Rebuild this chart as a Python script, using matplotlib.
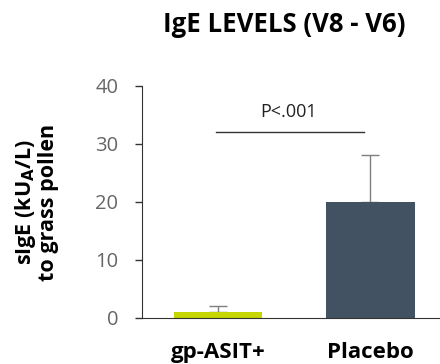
import matplotlib.pyplot as plt
import numpy as np

plt.rcParams['font.family'] = ['Open Sans', 'DejaVu Sans']

# data
groups = ['gp-ASIT+', 'Placebo']
means = [1.1, 20.0]
err_up = [0.9, 8.0]
bar_colors = ['#c5d600', '#435263']
yticks = [0, 10, 20, 30, 40]

fig = plt.figure(figsize=(4.4, 3.64), dpi=100)
ax = fig.add_axes([0.3227, 0.1264, 0.6773, 0.6382])

x = np.arange(len(groups))
ax.bar(x, means, width=0.58, color=bar_colors, zorder=2)
ax.errorbar(x, means, yerr=[np.zeros(len(means)), err_up], fmt='none',
            ecolor='#7f7f7f', elinewidth=1.0, capsize=6.5, capthick=1.0, zorder=1)

ax.set_xlim(-0.497, 1.457)
ax.set_ylim(0, 40)
ax.set_yticks(yticks)
ax.tick_params(axis='y', direction='out', length=5, width=1, colors='#333333',
               labelcolor='#666666', labelsize=14.5, pad=12)
ax.tick_params(axis='x', length=0, pad=17)
ax.set_xticks(x)
ax.set_xticklabels(groups, fontsize=16, fontweight='bold', color='black')

for s in ['top', 'right']:
    ax.spines[s].set_visible(False)
ax.spines['left'].set_color('#333333')
ax.spines['bottom'].set_color('#333333')

# significance bracket
ax.plot([-0.01, 0.96], [32, 32], color='#333333', lw=1, clip_on=False)
ax.text(0.465, 34.0, 'P<.001', ha='center', va='bottom', fontsize=13, color='#222222')

fig.text(0.647, 0.934, 'IgE LEVELS (V8 - V6)', ha='center', va='center',
         fontsize=18.5, fontweight='bold')
fig.text(0.082, 0.445, 'sIgE (kU$_\\mathbf{A}$/L)\nto grass pollen', rotation=90,
         ha='center', va='center', fontsize=15.5, fontweight='bold', linespacing=1.05)

fig.savefig('out.png', dpi=100)
